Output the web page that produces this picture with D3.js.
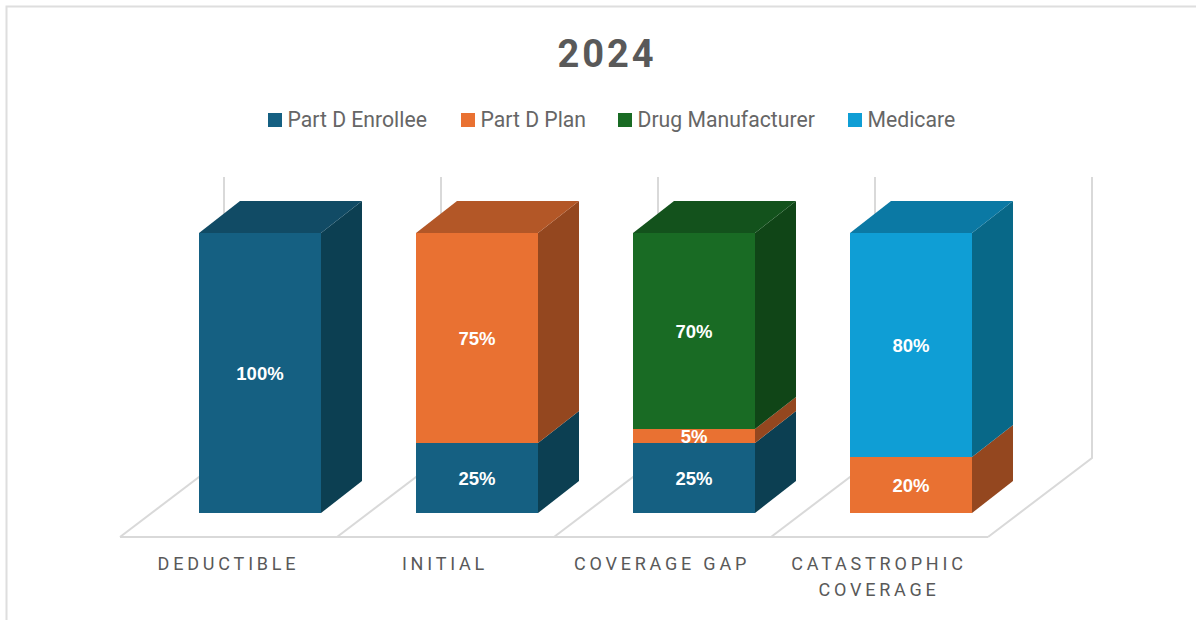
<!DOCTYPE html>
<html>
<head>
<meta charset="utf-8">
<script src="https://cdn.jsdelivr.net/npm/d3@7"></script>
<style>
  html, body { margin: 0; padding: 0; background: #fff; }
  svg { display: block; }
</style>
</head>
<body>
<svg id="chart" width="1196" height="620"></svg>
<script>
// Stage shares of Part D drug costs by payer, 2024
const titleText = "2024";
const categories = ["DEDUCTIBLE", "INITIAL", "COVERAGE GAP", "CATASTROPHIC COVERAGE"];
const seriesNames = ["Part D Enrollee", "Part D Plan", "Drug Manufacturer", "Medicare"];
const enrollee = [100, 25, 25, 0];
const plan = [0, 75, 5, 20];
const manufacturer = [0, 0, 70, 0];
const medicare = [0, 0, 0, 80];
const seriesValues = [enrollee, plan, manufacturer, medicare];
const frontColors = ["#156082", "#E97132", "#196B24", "#0F9ED5"];
const topColors = ["#114B65", "#B35727", "#13521C", "#0B79A4"];
const sideColors = ["#0C3F52", "#94471F", "#104517", "#086888"];

const svg = d3.select("#chart");
const GRID = "#d9d9d9", TEXT = "#595959";

// Chart frame: only the top and left edges fall inside the page
svg.append("path")
  .attr("d", d3.line()([[6.5, 620], [6.5, 6.5], [1196, 6.5]]))
  .attr("fill", "none").attr("stroke", "#dedede").attr("stroke-width", 2);

svg.append("text").text(titleText)
  .attr("x", 607).attr("y", 67).attr("text-anchor", "middle")
  .attr("font-family", "Roboto, sans-serif").attr("font-weight", 700)
  .attr("font-size", 38).attr("letter-spacing", 2.9).attr("fill", TEXT);

// Legend
const legendX = [268, 461, 618, 848];
const legend = svg.append("g").selectAll("g").data(seriesNames).join("g")
  .attr("transform", (d, i) => `translate(${legendX[i]},113)`);
legend.append("rect").attr("width", 14).attr("height", 14)
  .attr("fill", (d, i) => frontColors[i]);
legend.append("text").text(d => d)
  .attr("x", 19.5).attr("y", 14)
  .attr("font-family", "Roboto, sans-serif").attr("font-size", 21.2)
  .attr("fill", "#666");

// Oblique projection of the depth axis
const depthX = 41, depthY = -32;
const x = d3.scaleBand().domain(categories).range([199 - 47.5, 199 - 47.5 + 217 * 4]);
const barWidth = 122;
const barLeft = c => x(c) + (x.bandwidth() - barWidth) / 2;
const y = d3.scaleLinear().domain([0, 100]).range([513, 233]);

// Floor and back wall
const floorFront = 537, floorBack = 458, wallTop = 177;
const floorX = d3.scaleLinear().domain([0, categories.length]).range([120, 988]);
const floorShiftX = 104;
const grid = svg.append("g").attr("fill", "none").attr("stroke", GRID).attr("stroke-width", 2);
grid.append("path").attr("d", d3.line()([[floorX(0), floorFront], [floorX(4), floorFront]]));
d3.range(categories.length + 1).forEach(i => {
  const fx = floorX(i);
  grid.append("path").attr("d", d3.line()([
    [fx, floorFront], [fx + floorShiftX, floorBack], [fx + floorShiftX, wallTop]
  ]));
});

// Stacked prisms, bottom segment first
const poly = pts => "M" + pts.map(p => p.join(",")).join("L") + "Z";
const bars = svg.append("g");
const labels = svg.append("g");
categories.forEach((cat, c) => {
  const x0 = barLeft(cat), x1 = x0 + barWidth;
  let base = 0;
  seriesValues.forEach((vals, s) => {
    const v = vals[c];
    if (!v) return;
    const yb = y(base), yt = y(base + v);
    bars.append("path").attr("fill", sideColors[s]).attr("d", poly([
      [x1, yb], [x1 + depthX, yb + depthY], [x1 + depthX, yt + depthY], [x1, yt]
    ]));
    if (base + v === 100) {
      bars.append("path").attr("fill", topColors[s]).attr("d", poly([
        [x0, yt], [x0 + depthX, yt + depthY], [x1 + depthX, yt + depthY], [x1, yt]
      ]));
    }
    bars.append("rect").attr("x", x0).attr("y", yt)
      .attr("width", barWidth).attr("height", yb - yt).attr("fill", frontColors[s]);
    labels.append("text").text(v + "%")
      .attr("x", x0 + barWidth / 2).attr("y", (yb + yt) / 2 + 7.3)
      .attr("text-anchor", "middle").attr("fill", "#fff")
      .attr("font-family", "'Liberation Sans', Arial, sans-serif")
      .attr("font-weight", 700).attr("font-size", 18.5);
    base += v;
  });
});

// Category labels; the long name wraps over two lines
const catLines = [["DEDUCTIBLE"], ["INITIAL"], ["COVERAGE GAP"], ["CATASTROPHIC", "COVERAGE"]];
const catCenter = [228.5, 445, 662, 879];
const catText = svg.append("g").attr("text-anchor", "middle")
  .attr("font-family", "Roboto, sans-serif").attr("font-size", 18)
  .attr("letter-spacing", 3.8).attr("fill", TEXT);
catLines.forEach((lines, i) => lines.forEach((ln, j) => {
  catText.append("text").text(ln).attr("x", catCenter[i]).attr("y", 570 + j * 26);
}));
</script>
</body>
</html>
